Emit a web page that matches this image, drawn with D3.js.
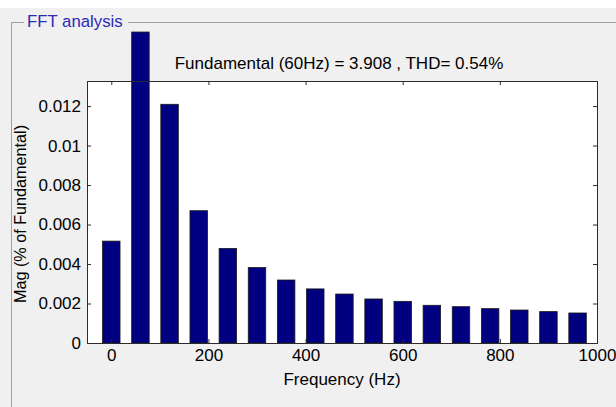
<!DOCTYPE html>
<html>
<head>
<meta charset="utf-8">
<script src="https://cdn.jsdelivr.net/npm/d3@7"></script>
<style>
    body { margin: 0; background: #f0f0f0; }
    svg { display: block; }
    text { font-family: "Liberation Sans", Arial, sans-serif; }
</style>
</head>
<body>
<script>
// Harmonic frequencies (Hz) and magnitudes
let freqs = [0, 60, 120, 180, 240, 300, 360, 420, 480, 540, 600, 660, 720, 780, 840, 900, 960];
let mags = [0.00516, 0.01575, 0.01209, 0.00670, 0.00479, 0.00382, 0.00319, 0.00274, 0.00248, 0.00223, 0.00211,
    0.00191, 0.00184, 0.00174, 0.00167, 0.00159, 0.00152];
let xTicks = [0, 200, 400, 600, 800, 1000];
let yTicks = [0, 0.002, 0.004, 0.006, 0.008, 0.01, 0.012];

let W = 616, H = 407;
let plot = { left: 87, right: 597, top: 81, bottom: 343 };
let fontSize = "17px";

let x = d3.scaleLinear([-50, 1000], [plot.left, plot.right]);
let y = d3.scaleLinear([0, 0.01327], [plot.bottom, plot.top]);
let barW = x(36) - x(0);

let svg = d3.select("body")
    .append("svg")
    .attr("width", W)
    .attr("height", H);

// window background, white strip on top
svg.append("rect").attr("width", W).attr("height", H).attr("fill", "#f0f0f0");
svg.append("rect").attr("width", W).attr("height", 8).attr("fill", "#ffffff");

// panel frame
svg.append("path")
    .attr("d", `M11.5,${H} V22.5 H24 M128,22.5 H${W}`)
    .attr("fill", "none")
    .attr("stroke", "#a0a0a0");
svg.append("text")
    .attr("x", 27).attr("y", 27)
    .attr("fill", "#2a2ab8")
    .style("font-size", "16.8px")
    .text("FFT analysis");

// axes background
svg.append("rect")
    .attr("x", plot.left).attr("y", plot.top)
    .attr("width", plot.right - plot.left).attr("height", plot.bottom - plot.top)
    .attr("fill", "#ffffff");

// bars (not clipped, like the original)
svg.append("g")
    .selectAll("rect")
    .data(freqs)
    .join("rect")
    .attr("x", (f) => x(f) - barW / 2)
    .attr("y", (f, i) => y(mags[i]))
    .attr("width", barW)
    .attr("height", (f, i) => y(0) - y(mags[i]))
    .attr("fill", "#000080")
    .attr("stroke", "#1a1a1a")
    .attr("stroke-width", 0.8);

// axes with inward ticks on all sides
let tickLen = 4;
let axisColor = "#2b2b2b";

let bottomAxis = d3.axisBottom(x).tickValues(xTicks).tickSize(-tickLen).tickPadding(6).tickFormat(d3.format("d"));
let topAxis = d3.axisTop(x).tickValues(xTicks).tickSize(-tickLen).tickFormat("");
let leftAxis = d3.axisLeft(y).tickValues(yTicks).tickSize(-tickLen).tickPadding(6).tickFormat(d => d === 0 ? "0" : d3.format("")(+d.toFixed(3)));
let rightAxis = d3.axisRight(y).tickValues(yTicks).tickSize(-tickLen).tickFormat("");

function styleAxis(g) {
    g.select(".domain").attr("stroke", axisColor);
    g.selectAll(".tick line").attr("stroke", axisColor);
    g.selectAll(".tick text")
        .attr("fill", "#000")
        .style("font-size", fontSize)
        .style("font-family", "'Liberation Sans', Arial, sans-serif");
}

svg.append("g").attr("transform", `translate(0,${plot.bottom})`).call(bottomAxis).call(styleAxis);
svg.append("g").attr("transform", `translate(0,${plot.top})`).call(topAxis).call(styleAxis);
svg.append("g").attr("transform", `translate(${plot.left},0)`).call(leftAxis).call(styleAxis);
svg.append("g").attr("transform", `translate(${plot.right},0)`).call(rightAxis).call(styleAxis);

// title and labels
svg.append("text")
    .attr("x", (plot.left + plot.right) / 2 - 3)
    .attr("y", 69)
    .attr("text-anchor", "middle")
    .style("font-size", fontSize)
    .text("Fundamental (60Hz) = 3.908 , THD= 0.54%");

svg.append("text")
    .attr("x", (plot.left + plot.right) / 2)
    .attr("y", 385)
    .attr("text-anchor", "middle")
    .style("font-size", fontSize)
    .text("Frequency (Hz)");

svg.append("text")
    .attr("transform", `translate(26,${(plot.top + plot.bottom) / 2 + 2}) rotate(-90)`)
    .attr("text-anchor", "middle")
    .style("font-size", "16.2px")
    .text("Mag (% of Fundamental)");
</script>
</body>
</html>
